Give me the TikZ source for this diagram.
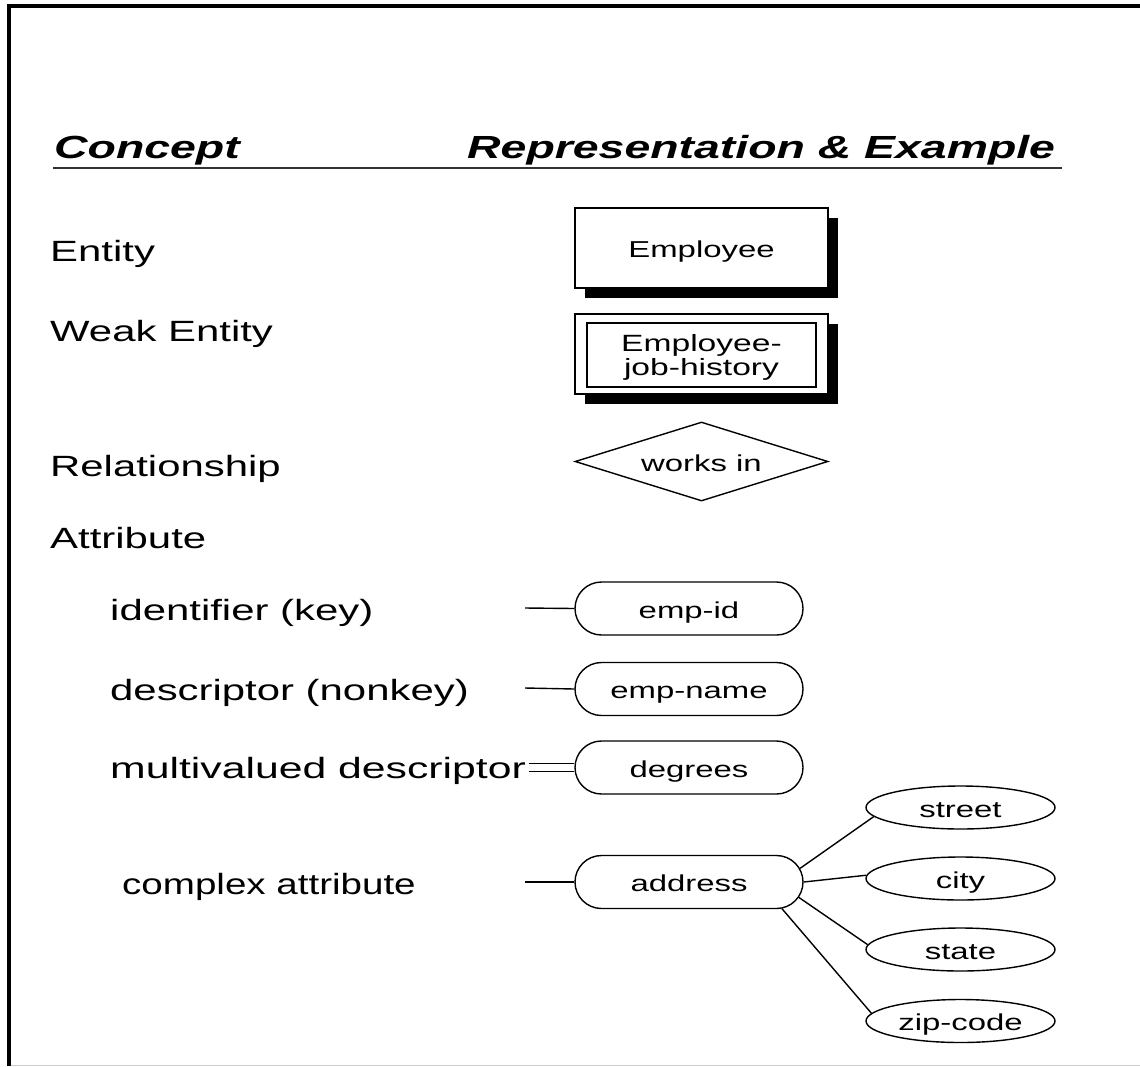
\documentclass[tikz,border=0pt]{standalone}
\usepackage{fontspec}
\setmainfont{Liberation Sans}
\newfontfamily\labelfont{Liberation Sans}[FakeStretch=1.43]
\newfontfamily\headfont{Liberation Sans}[FakeStretch=1.45]
\usetikzlibrary{shapes.geometric,shapes.misc,shadows}

\begin{document}
\begin{tikzpicture}[x=1pt,y=-1pt,
  concept/.style={anchor=base west, inner sep=0pt,
    font=\labelfont\fontsize{29.3}{33}\selectfont},
  head/.style={anchor=base west, inner sep=0pt,
    font=\headfont\bfseries\itshape\fontsize{32}{36}\selectfont},
  shapeline/.style={draw, fill=white, line width=1.4pt, inner sep=0pt},
  shapetext/.style={shapeline, text height=19pt, text depth=0pt,
    font=\labelfont\fontsize{23}{23}\selectfont},
  shadowed/.style={drop shadow={shadow xshift=10pt, shadow yshift=-10pt,
    fill=black, opacity=1}},
  entitybox/.style={shapetext, rectangle, minimum width=253pt, minimum height=80pt},
  relbox/.style={shapetext, diamond, aspect=3.2, minimum width=253pt, minimum height=79pt},
  attrbox/.style={shapetext, rounded rectangle, minimum width=228pt, minimum height=53pt},
  partbox/.style={shapetext, ellipse, minimum width=189pt, minimum height=43pt},
  weaktext/.style={inner sep=0pt, align=center,
    font=\labelfont\fontsize{23.5}{24}\selectfont},
  conn/.style={line width=1.4pt},
]
\useasboundingbox (0,0) rectangle (1140,1066);

% page frame
\draw[line width=4pt] (9,1066) -- (9,6) -- (1140,6);
\draw[line width=1pt, black!20] (11,1065) -- (1140,1065);

% column headings
\node[head] (hconcept) at (54,158) {Concept};
\node[head] (hrepr) at (467,158) {Representation \& Example};
\draw[line width=2pt, black!80] (53,168) -- (1062,168);

% concept names
\node[concept] (lent)  at (50,261) {Entity};
\node[concept] (lweak) at (50,341) {Weak Entity};
\node[concept] (lrel)  at (50,476) {Relationship};
\node[concept] (lattr) at (50,548) {Attribute};
\node[concept] (lkey)  at (110,620) {identifier (key)};
\node[concept] (ldesc) at (110,700) {descriptor (nonkey)};
\node[concept] (lmulti) at (110,778) {\scalebox{1.02}[1]{multivalued descriptor}};
\node[concept] (lcomp) at (122,894) {\scalebox{0.92}[1]{complex attribute}};

% entity and weak entity
\node[entitybox, shadowed] (emp) at (701.5,248) {Employee};
\node[entitybox, shadowed] (weak) at (701.5,354) {};
\node[shapeline, rectangle, minimum width=229pt, minimum height=64pt]
  (weakin) at (701.5,355) {};
\node[weaktext, anchor=north] (weaklbl) at (701.5,334.5) {Employee-\\job-history};

% relationship
\node[relbox] (rel) at (701.5,461.5) {works in};

% attributes
\node[attrbox] (empid) at (689,608.5) {emp-id};
\node[attrbox] (empname) at (689,689) {emp-name};
\node[attrbox] (deg) at (689,767.5) {degrees};
\node[attrbox] (addr) at (689,882) {address};

\coordinate (kfree) at (525,608);
\coordinate (nfree) at (525,688);
\coordinate (mfree) at (529,767.5);
\coordinate (afree) at (525,882);

\draw[conn] (kfree) -- (empid.west);
\draw[conn] (nfree) -- (empname.west);
\draw[line width=1.2pt, double, double distance=7pt] (mfree) -- (deg.west);
\draw[conn] (afree) -- (addr.west);

% parts of the complex attribute
\node[partbox] (street) at (960.5,807.5) {street};
\node[partbox] (city) at (960.5,878.5) {city};
\node[partbox] (state) at (960.5,949.5) {state};
\node[partbox] (zip) at (960.5,1021) {zip-code};

\draw[conn] (addr.7) -- (street.186);
\draw[conn] (addr.0) -- (city.178);
\draw[conn] (addr.-8) -- (state.177);
\draw[conn] (addr.-16) -- (zip.175);
\end{tikzpicture}
\end{document}
